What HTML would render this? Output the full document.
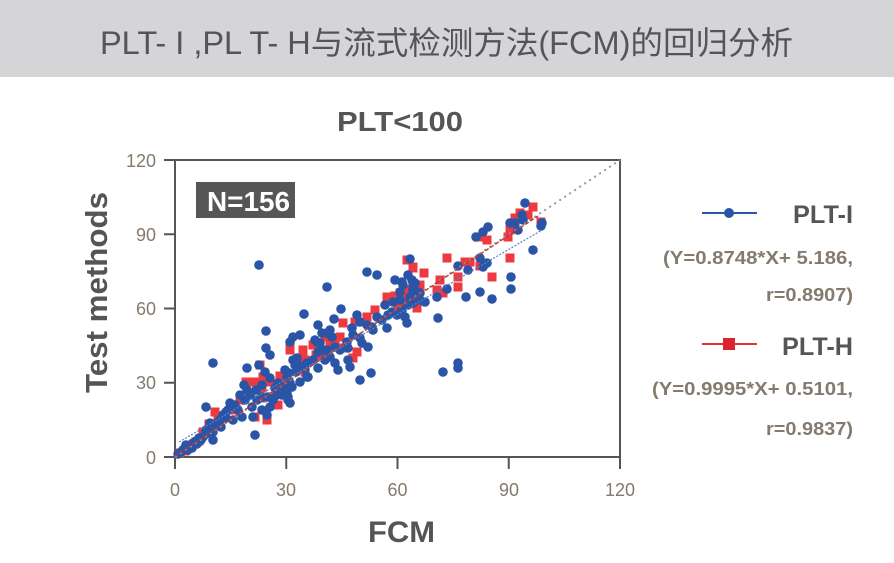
<!DOCTYPE html>
<html><head><meta charset="utf-8"><style>
html,body{margin:0;padding:0;background:#fff;}
svg{display:block;}
text{font-family:"Liberation Sans","Noto Sans CJK SC",sans-serif;}
</style></head><body>
<svg width="894" height="563" viewBox="0 0 894 563" xmlns="http://www.w3.org/2000/svg">
<rect x="0" y="0" width="894" height="77" fill="#d5d5d7"/>
<text x="100" y="54" font-size="32" fill="#555557" textLength="693" lengthAdjust="spacingAndGlyphs">PLT- I ,PL T- H与流式检测方法(FCM)的回归分析</text>
<text x="337" y="131" font-size="28" font-weight="bold" fill="#555" textLength="126" lengthAdjust="spacingAndGlyphs">PLT&lt;100</text>

<text transform="translate(107,393) rotate(-90)" x="0" y="0" font-size="31" font-weight="bold" fill="#555" textLength="201" lengthAdjust="spacingAndGlyphs">Test methods</text>
<text x="368" y="542" font-size="30" font-weight="bold" fill="#555" textLength="67" lengthAdjust="spacingAndGlyphs">FCM</text>

<g font-size="18" fill="#85796d">
<text x="156" y="167" text-anchor="end">120</text>
<text x="156" y="241" text-anchor="end">90</text>
<text x="156" y="315" text-anchor="end">60</text>
<text x="156" y="389" text-anchor="end">30</text>
<text x="156" y="464" text-anchor="end">0</text>
<text x="175" y="496" text-anchor="middle">0</text>
<text x="286" y="496" text-anchor="middle">30</text>
<text x="397.5" y="496" text-anchor="middle">60</text>
<text x="509" y="496" text-anchor="middle">90</text>
<text x="620" y="496" text-anchor="middle">120</text>
</g>

<rect x="175" y="160" width="445" height="297" fill="none" stroke="#555" stroke-width="2"/>
<g stroke="#555" stroke-width="2">
<line x1="175" y1="457" x2="175" y2="469"/>
<line x1="286.25" y1="457" x2="286.25" y2="469"/>
<line x1="397.5" y1="457" x2="397.5" y2="469"/>
<line x1="508.75" y1="457" x2="508.75" y2="469"/>
<line x1="620" y1="457" x2="620" y2="469"/>
<line x1="164" y1="457" x2="175" y2="457"/>
<line x1="164" y1="382.75" x2="175" y2="382.75"/>
<line x1="164" y1="308.5" x2="175" y2="308.5"/>
<line x1="164" y1="234.25" x2="175" y2="234.25"/>
<line x1="164" y1="160" x2="175" y2="160"/>
</g>

<rect x="196" y="182" width="99" height="36" fill="#555658"/>
<text x="207" y="211" font-size="28" font-weight="bold" fill="#fff" textLength="83" lengthAdjust="spacingAndGlyphs">N=156</text>

<g fill="#ec3a40" transform="translate(-0.5,-0.5)">
<rect x="176" y="449" width="9" height="9"/><rect x="181" y="447" width="9" height="9"/><rect x="187" y="443" width="9" height="9"/><rect x="192" y="438" width="9" height="9"/><rect x="195" y="437" width="9" height="9"/><rect x="199" y="428" width="9" height="9"/><rect x="211" y="408" width="9" height="9"/><rect x="214" y="416" width="9" height="9"/><rect x="228" y="406" width="9" height="9"/><rect x="186" y="441" width="9" height="9"/>
<rect x="242" y="378" width="9" height="9"/><rect x="251" y="378" width="9" height="9"/><rect x="251" y="413" width="9" height="9"/><rect x="256" y="361" width="9" height="9"/><rect x="259" y="373" width="9" height="9"/><rect x="263" y="416" width="9" height="9"/><rect x="266" y="378" width="9" height="9"/><rect x="269" y="393" width="9" height="9"/><rect x="274" y="401" width="9" height="9"/><rect x="286" y="344" width="9" height="9"/><rect x="299" y="349" width="9" height="9"/><rect x="313" y="353" width="9" height="9"/><rect x="321" y="333" width="9" height="9"/><rect x="258" y="384" width="9" height="9"/><rect x="276" y="372" width="9" height="9"/><rect x="282" y="377" width="9" height="9"/><rect x="279" y="379" width="9" height="9"/><rect x="286" y="346" width="9" height="9"/><rect x="299" y="346" width="9" height="9"/><rect x="309" y="341" width="9" height="9"/><rect x="312" y="351" width="9" height="9"/><rect x="323" y="333" width="9" height="9"/><rect x="336" y="333" width="9" height="9"/><rect x="331" y="336" width="9" height="9"/><rect x="339" y="319" width="9" height="9"/><rect x="351" y="318" width="9" height="9"/><rect x="363" y="313" width="9" height="9"/><rect x="371" y="306" width="9" height="9"/><rect x="383" y="293" width="9" height="9"/><rect x="396" y="289" width="9" height="9"/><rect x="403" y="256" width="9" height="9"/><rect x="409" y="263" width="9" height="9"/><rect x="413" y="304" width="9" height="9"/><rect x="433" y="286" width="9" height="9"/><rect x="353" y="348" width="9" height="9"/><rect x="349" y="354" width="9" height="9"/><rect x="338" y="344" width="9" height="9"/><rect x="291" y="359" width="9" height="9"/><rect x="301" y="356" width="9" height="9"/><rect x="319" y="348" width="9" height="9"/><rect x="394" y="303" width="9" height="9"/><rect x="391" y="292" width="9" height="9"/>
<rect x="246" y="391" width="9" height="9"/><rect x="258" y="394" width="9" height="9"/><rect x="281" y="376" width="9" height="9"/><rect x="301" y="368" width="9" height="9"/><rect x="326" y="341" width="9" height="9"/><rect x="394" y="293" width="9" height="9"/><rect x="416" y="281" width="9" height="9"/><rect x="420" y="269" width="9" height="9"/><rect x="205" y="420" width="9" height="9"/><rect x="236" y="396" width="9" height="9"/>
<rect x="529" y="203" width="9" height="9"/><rect x="516" y="209" width="9" height="9"/><rect x="506" y="226" width="9" height="9"/><rect x="474" y="233" width="9" height="9"/><rect x="483" y="236" width="9" height="9"/><rect x="443" y="254" width="9" height="9"/><rect x="461" y="258" width="9" height="9"/><rect x="466" y="258" width="9" height="9"/><rect x="506" y="254" width="9" height="9"/><rect x="476" y="262" width="9" height="9"/><rect x="488" y="273" width="9" height="9"/><rect x="454" y="273" width="9" height="9"/><rect x="454" y="283" width="9" height="9"/><rect x="436" y="276" width="9" height="9"/><rect x="433" y="286" width="9" height="9"/><rect x="439" y="289" width="9" height="9"/><rect x="409" y="264" width="9" height="9"/><rect x="403" y="286" width="9" height="9"/><rect x="401" y="293" width="9" height="9"/><rect x="413" y="303" width="9" height="9"/><rect x="396" y="301" width="9" height="9"/><rect x="504" y="233" width="9" height="9"/><rect x="524" y="211" width="9" height="9"/><rect x="511" y="214" width="9" height="9"/><rect x="537" y="218" width="9" height="9"/>
</g>

<g fill="#2a54a6">
<circle cx="178" cy="454" r="4.8"/><circle cx="181" cy="452" r="4.8"/><circle cx="184" cy="449" r="4.8"/><circle cx="187" cy="447" r="4.8"/><circle cx="190" cy="446" r="4.8"/><circle cx="193" cy="443" r="4.8"/><circle cx="196" cy="441" r="4.8"/><circle cx="199" cy="438" r="4.8"/><circle cx="203" cy="437" r="4.8"/><circle cx="206" cy="434" r="4.8"/><circle cx="210" cy="431" r="4.8"/><circle cx="213" cy="432" r="4.8"/><circle cx="206" cy="430" r="4.8"/><circle cx="210" cy="423" r="4.8"/><circle cx="188" cy="450" r="4.8"/><circle cx="192" cy="448" r="4.8"/><circle cx="197" cy="444" r="4.8"/><circle cx="201" cy="440" r="4.8"/><circle cx="183" cy="450" r="4.8"/><circle cx="186" cy="445" r="4.8"/>
<circle cx="206" cy="407" r="4.8"/><circle cx="213" cy="440" r="4.8"/><circle cx="221" cy="427" r="4.8"/><circle cx="223" cy="415" r="4.8"/><circle cx="220" cy="420" r="4.8"/><circle cx="228" cy="410" r="4.8"/><circle cx="230" cy="403" r="4.8"/><circle cx="233" cy="420" r="4.8"/><circle cx="238" cy="410" r="4.8"/><circle cx="242" cy="417" r="4.8"/><circle cx="235" cy="405" r="4.8"/><circle cx="213" cy="363" r="4.8"/><circle cx="226" cy="418" r="4.8"/><circle cx="216" cy="425" r="4.8"/>
<circle cx="247" cy="368" r="4.8"/><circle cx="247" cy="390" r="4.8"/><circle cx="250" cy="395" r="4.8"/><circle cx="245" cy="400" r="4.8"/><circle cx="252" cy="407" r="4.8"/><circle cx="253" cy="417" r="4.8"/><circle cx="255" cy="435" r="4.8"/><circle cx="257" cy="400" r="4.8"/><circle cx="262" cy="397" r="4.8"/><circle cx="259" cy="365" r="4.8"/><circle cx="262" cy="410" r="4.8"/><circle cx="266" cy="331" r="4.8"/><circle cx="266" cy="348" r="4.8"/><circle cx="270" cy="355" r="4.8"/><circle cx="259" cy="265" r="4.8"/><circle cx="268" cy="397" r="4.8"/><circle cx="273" cy="400" r="4.8"/><circle cx="277" cy="395" r="4.8"/><circle cx="270" cy="407" r="4.8"/><circle cx="267" cy="415" r="4.8"/><circle cx="270" cy="378" r="4.8"/><circle cx="278" cy="383" r="4.8"/><circle cx="283" cy="387" r="4.8"/><circle cx="287" cy="393" r="4.8"/><circle cx="292" cy="387" r="4.8"/><circle cx="288" cy="400" r="4.8"/><circle cx="285" cy="370" r="4.8"/><circle cx="289" cy="373" r="4.8"/><circle cx="295" cy="365" r="4.8"/><circle cx="297" cy="358" r="4.8"/><circle cx="300" cy="366" r="4.8"/><circle cx="305" cy="370" r="4.8"/><circle cx="307" cy="377" r="4.8"/><circle cx="318" cy="368" r="4.8"/><circle cx="293" cy="337" r="4.8"/><circle cx="300" cy="335" r="4.8"/><circle cx="317" cy="342" r="4.8"/><circle cx="323" cy="350" r="4.8"/><circle cx="318" cy="325" r="4.8"/><circle cx="327" cy="333" r="4.8"/><circle cx="304" cy="314" r="4.8"/><circle cx="327" cy="287" r="4.8"/>
<circle cx="240" cy="395" r="4.8"/><circle cx="244" cy="385" r="4.8"/><circle cx="256" cy="390" r="4.8"/><circle cx="262" cy="385" r="4.8"/><circle cx="265" cy="372" r="4.8"/><circle cx="275" cy="388" r="4.8"/><circle cx="282" cy="395" r="4.8"/><circle cx="296" cy="372" r="4.8"/><circle cx="313" cy="360" r="4.8"/><circle cx="325" cy="360" r="4.8"/><circle cx="385" cy="305" r="4.8"/><circle cx="388" cy="315" r="4.8"/><circle cx="400" cy="292" r="4.8"/><circle cx="402" cy="310" r="4.8"/><circle cx="420" cy="300" r="4.8"/><circle cx="226" cy="412" r="4.8"/><circle cx="218" cy="422" r="4.8"/>
<circle cx="280" cy="387" r="4.8"/><circle cx="290" cy="383" r="4.8"/><circle cx="288" cy="397" r="4.8"/><circle cx="290" cy="403" r="4.8"/><circle cx="300" cy="382" r="4.8"/><circle cx="308" cy="377" r="4.8"/><circle cx="287" cy="377" r="4.8"/><circle cx="293" cy="360" r="4.8"/><circle cx="298" cy="365" r="4.8"/><circle cx="307" cy="363" r="4.8"/><circle cx="290" cy="342" r="4.8"/><circle cx="315" cy="340" r="4.8"/><circle cx="320" cy="343" r="4.8"/><circle cx="322" cy="333" r="4.8"/><circle cx="318" cy="352" r="4.8"/><circle cx="327" cy="350" r="4.8"/><circle cx="330" cy="357" r="4.8"/><circle cx="335" cy="347" r="4.8"/><circle cx="340" cy="350" r="4.8"/><circle cx="330" cy="330" r="4.8"/><circle cx="332" cy="337" r="4.8"/><circle cx="335" cy="363" r="4.8"/><circle cx="338" cy="370" r="4.8"/><circle cx="347" cy="342" r="4.8"/><circle cx="348" cy="348" r="4.8"/><circle cx="348" cy="360" r="4.8"/><circle cx="350" cy="367" r="4.8"/><circle cx="352" cy="328" r="4.8"/><circle cx="353" cy="335" r="4.8"/><circle cx="357" cy="315" r="4.8"/><circle cx="360" cy="322" r="4.8"/><circle cx="367" cy="325" r="4.8"/><circle cx="372" cy="327" r="4.8"/><circle cx="373" cy="330" r="4.8"/><circle cx="360" cy="338" r="4.8"/><circle cx="362" cy="343" r="4.8"/><circle cx="368" cy="347" r="4.8"/><circle cx="360" cy="380" r="4.8"/><circle cx="371" cy="373" r="4.8"/><circle cx="334" cy="319" r="4.8"/><circle cx="341" cy="309" r="4.8"/><circle cx="377" cy="317" r="4.8"/><circle cx="382" cy="320" r="4.8"/><circle cx="387" cy="328" r="4.8"/><circle cx="392" cy="312" r="4.8"/><circle cx="397" cy="315" r="4.8"/><circle cx="393" cy="302" r="4.8"/><circle cx="395" cy="280" r="4.8"/><circle cx="402" cy="282" r="4.8"/><circle cx="410" cy="298" r="4.8"/><circle cx="413" cy="303" r="4.8"/><circle cx="413" cy="285" r="4.8"/><circle cx="418" cy="292" r="4.8"/><circle cx="425" cy="302" r="4.8"/><circle cx="437" cy="297" r="4.8"/><circle cx="410" cy="259" r="4.8"/><circle cx="408" cy="275" r="4.8"/><circle cx="367" cy="272" r="4.8"/><circle cx="377" cy="275" r="4.8"/><circle cx="405" cy="317" r="4.8"/><circle cx="407" cy="323" r="4.8"/><circle cx="438" cy="318" r="4.8"/>
<circle cx="412" cy="280" r="4.8"/><circle cx="415" cy="283" r="4.8"/><circle cx="413" cy="290" r="4.8"/><circle cx="410" cy="297" r="4.8"/><circle cx="408" cy="305" r="4.8"/><circle cx="403" cy="285" r="4.8"/><circle cx="400" cy="300" r="4.8"/><circle cx="415" cy="300" r="4.8"/><circle cx="420" cy="293" r="4.8"/><circle cx="447" cy="289" r="4.8"/><circle cx="443" cy="372" r="4.8"/><circle cx="458" cy="363" r="4.8"/><circle cx="458" cy="368" r="4.8"/><circle cx="458" cy="266" r="4.8"/><circle cx="468" cy="270" r="4.8"/><circle cx="480" cy="258" r="4.8"/><circle cx="487" cy="263" r="4.8"/><circle cx="483" cy="267" r="4.8"/><circle cx="476" cy="237" r="4.8"/><circle cx="483" cy="232" r="4.8"/><circle cx="488" cy="227" r="4.8"/><circle cx="466" cy="297" r="4.8"/><circle cx="480" cy="292" r="4.8"/><circle cx="492" cy="299" r="4.8"/><circle cx="511" cy="277" r="4.8"/><circle cx="511" cy="289" r="4.8"/><circle cx="533" cy="250" r="4.8"/><circle cx="510" cy="223" r="4.8"/><circle cx="515" cy="223" r="4.8"/><circle cx="518" cy="230" r="4.8"/><circle cx="522" cy="215" r="4.8"/><circle cx="523" cy="220" r="4.8"/><circle cx="525" cy="203" r="4.8"/><circle cx="542" cy="223" r="4.8"/><circle cx="541" cy="226" r="4.8"/>
</g>

<line x1="175" y1="457" x2="620" y2="160" stroke="#999" stroke-width="2" stroke-dasharray="2 4"/>
<line x1="179" y1="442" x2="542" y2="230" stroke="#5a7fc8" stroke-width="1.2" stroke-dasharray="2 1.5"/>
<line x1="175" y1="456" x2="538" y2="216" stroke="#b8383a" stroke-width="1.4" stroke-dasharray="4 2"/>

<line x1="702" y1="213" x2="757" y2="213" stroke="#2a54a6" stroke-width="2"/>
<circle cx="729" cy="213" r="5" fill="#2a54a6"/>
<text x="853" y="223" font-size="25" font-weight="bold" fill="#555" text-anchor="end" textLength="60" lengthAdjust="spacingAndGlyphs">PLT-I</text>
<text x="853" y="264" font-size="18" font-weight="bold" fill="#857a6e" text-anchor="end" textLength="190" lengthAdjust="spacingAndGlyphs">(Y=0.8748*X+ 5.186,</text>
<text x="853" y="301" font-size="18" font-weight="bold" fill="#857a6e" text-anchor="end" textLength="87" lengthAdjust="spacingAndGlyphs">r=0.8907)</text>
<line x1="702" y1="344" x2="757" y2="344" stroke="#d9353b" stroke-width="2"/>
<rect x="723" y="338" width="12" height="12" fill="#d9262e"/>
<text x="853" y="355" font-size="25" font-weight="bold" fill="#555" text-anchor="end" textLength="71" lengthAdjust="spacingAndGlyphs">PLT-H</text>
<text x="853" y="395" font-size="18" font-weight="bold" fill="#857a6e" text-anchor="end" textLength="201" lengthAdjust="spacingAndGlyphs">(Y=0.9995*X+ 0.5101,</text>
<text x="853" y="435" font-size="18" font-weight="bold" fill="#857a6e" text-anchor="end" textLength="87" lengthAdjust="spacingAndGlyphs">r=0.9837)</text>
</svg>
</body></html>
